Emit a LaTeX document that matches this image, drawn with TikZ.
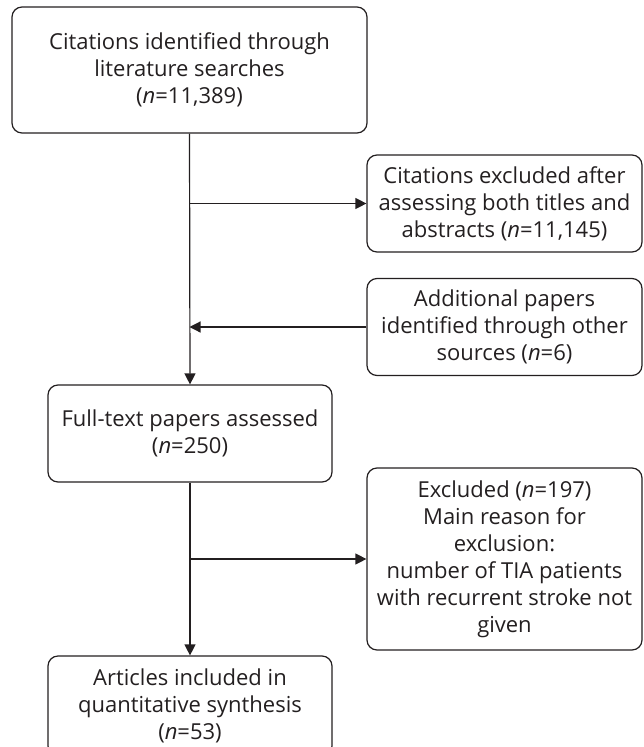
\documentclass[tikz,border=0pt]{standalone}
\usepackage{fontspec}
\setmainfont{Open Sans}
\usetikzlibrary{arrows.meta}
\definecolor{ink}{HTML}{231F20}
\begin{document}
\begin{tikzpicture}[x=1pt,y=-1pt,
  box/.style={draw=ink, line width=1.2pt, rounded corners=10pt, align=center,
    text=ink, font=\fontsize{22}{27}\selectfont, inner sep=0pt},
  conn/.style={draw=ink, line width=1.2pt},
  arr/.style={conn, -{Triangle[length=11pt,width=11pt]}}]
\useasboundingbox (0,0) rectangle (643,747);
\node[box, minimum width=355pt, minimum height=126pt] (cit) at (189.5,70)
  {Citations identified through\\literature searches\\(\textit{n}=11,389)};
\node[box, minimum width=275pt, minimum height=97pt] (exc) at (504.5,203.5)
  {Citations excluded after\\assessing both titles and\\abstracts (\textit{n}=11,145)};
\node[box, minimum width=275pt, minimum height=97pt] (add) at (504.5,327)
  {Additional papers\\identified through other\\sources (\textit{n}=6)};
\node[box, minimum width=284pt, minimum height=97pt] (ft) at (190,433.5)
  {Full-text papers assessed\\(\textit{n}=250)};
\node[box, minimum width=275pt, minimum height=182pt] (ex2) at (504.5,559)
  {Excluded (\textit{n}=197)\\Main reason for\\exclusion:\\number of TIA patients\\with recurrent stroke not\\given};
\node[box, minimum width=284pt, minimum height=100pt] (art) at (190,706)
  {Articles included in\\quantitative synthesis\\(\textit{n}=53)};
\coordinate (b1) at (cit.south |- exc.west);
\coordinate (b2) at (cit.south |- add.west);
\coordinate (b3) at (ft.south |- ex2.west);
\draw[arr] (cit.south) -- (ft.north);
\draw[arr] (b1) -- (exc.west);
\draw[arr] (add.west) -- (b2);
\draw[arr] (ft.south) -- (art.north);
\draw[arr] (b3) -- (ex2.west);
\end{tikzpicture}
\end{document}
